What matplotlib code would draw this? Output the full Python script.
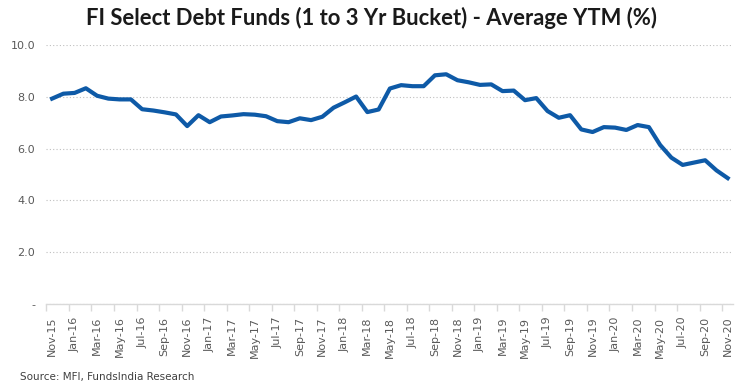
import matplotlib.pyplot as plt
import numpy as np

months = ['Nov-15', 'Dec-15',
          'Jan-16', 'Feb-16', 'Mar-16', 'Apr-16', 'May-16', 'Jun-16', 'Jul-16', 'Aug-16', 'Sep-16', 'Oct-16', 'Nov-16', 'Dec-16',
          'Jan-17', 'Feb-17', 'Mar-17', 'Apr-17', 'May-17', 'Jun-17', 'Jul-17', 'Aug-17', 'Sep-17', 'Oct-17', 'Nov-17', 'Dec-17',
          'Jan-18', 'Feb-18', 'Mar-18', 'Apr-18', 'May-18', 'Jun-18', 'Jul-18', 'Aug-18', 'Sep-18', 'Oct-18', 'Nov-18', 'Dec-18',
          'Jan-19', 'Feb-19', 'Mar-19', 'Apr-19', 'May-19', 'Jun-19', 'Jul-19', 'Aug-19', 'Sep-19', 'Oct-19', 'Nov-19', 'Dec-19',
          'Jan-20', 'Feb-20', 'Mar-20', 'Apr-20', 'May-20', 'Jun-20', 'Jul-20', 'Aug-20', 'Sep-20', 'Oct-20', 'Nov-20']

ytm = [7.93, 8.12, 8.15, 8.33, 8.04, 7.93, 7.90, 7.90, 7.52, 7.47, 7.40, 7.32, 6.87, 7.29,
       7.02, 7.24, 7.28, 7.33, 7.31, 7.25, 7.06, 7.02, 7.17, 7.10, 7.23, 7.58,
       7.79, 8.01, 7.41, 7.51, 8.32, 8.45, 8.41, 8.41, 8.83, 8.87, 8.64, 8.56,
       8.46, 8.48, 8.22, 8.24, 7.87, 7.95, 7.45, 7.19, 7.29, 6.74, 6.64, 6.83,
       6.81, 6.72, 6.91, 6.83, 6.14, 5.65, 5.37, 5.46, 5.55, 5.16, 4.86]

yticks = [0, 2, 4, 6, 8, 10]
ylabels = ['-', '2.0', '4.0', '6.0', '8.0', '10.0']

fig = plt.figure(figsize=(7.43, 3.89), dpi=100)
ax = fig.add_axes([0.0625, 0.2185, 0.9245, 0.6658])

x = np.arange(len(months))
ax.plot(x, ytm, color='#0E5AA7', linewidth=3.0, solid_joinstyle='round')

ax.set_xlim(-0.5, len(months) - 0.5)
ax.set_ylim(0, 10)

ax.set_yticks(yticks)
ax.set_yticklabels(ylabels)
ax.yaxis.grid(True, linestyle=(0, (1, 2)), color='#BFBFBF', linewidth=0.8)
ax.set_axisbelow(True)

ax.set_xticks(x[::2])
ax.set_xticklabels(months[::2], rotation=90)
ax.set_xticks(np.arange(-0.5, len(months), 2), minor=True)
ax.tick_params(axis='x', which='major', length=0, pad=9)
ax.tick_params(axis='x', which='minor', length=5, color='#D9D9D9', width=1)
ax.tick_params(axis='y', length=0, pad=8)
ax.tick_params(labelsize=8, labelcolor='#595959')

for s in ['top', 'right', 'left']:
    ax.spines[s].set_visible(False)
ax.spines['bottom'].set_color('#D9D9D9')
ax.spines['bottom'].set_linewidth(1)

fig.text(0.5, 0.955, 'FI Select Debt Funds (1 to 3 Yr Bucket) - Average YTM (%)',
         ha='center', va='center', fontsize=15.8, fontweight='bold', family='Lato', color='#1A1A1A')
fig.text(0.027, 0.03, 'Source: MFI, FundsIndia Research', ha='left', va='center',
         fontsize=7.5, color='#404040')

fig.savefig('out.png', dpi=100)
